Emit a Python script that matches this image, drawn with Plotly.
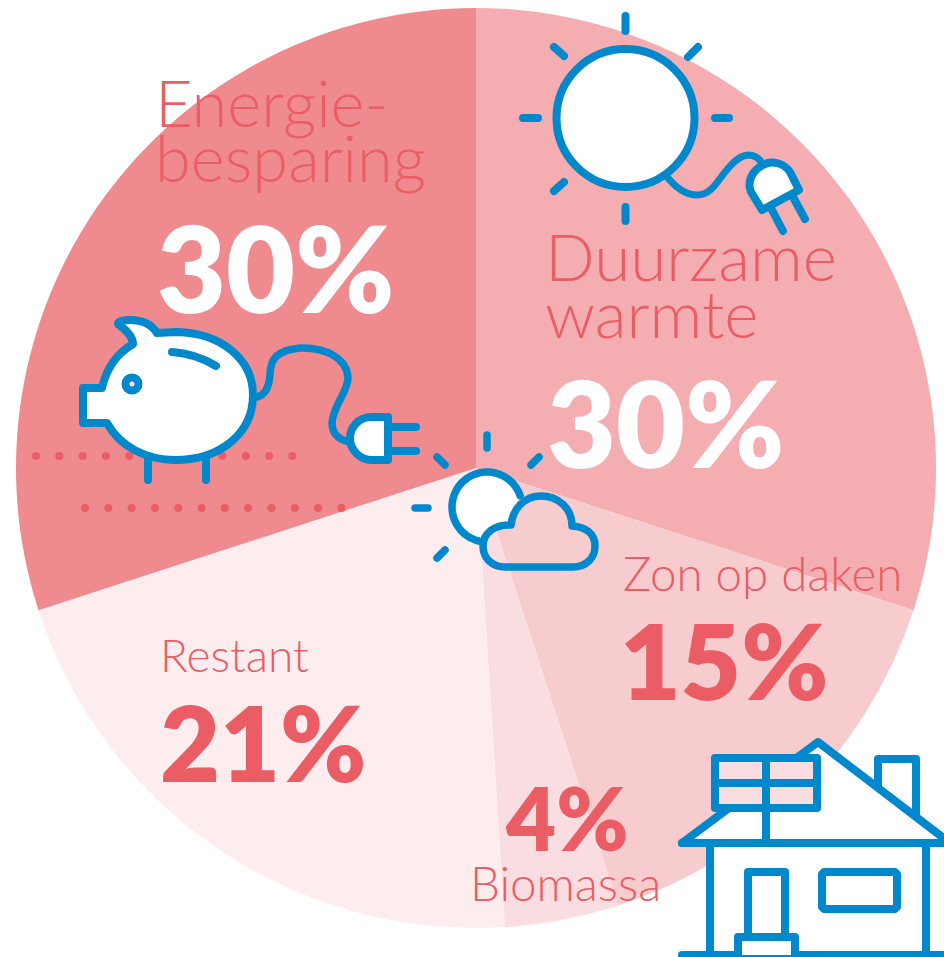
import math
import plotly.graph_objects as go

W, H = 944, 957

# ---- data ----
categories = ["Duurzame warmte", "Zon op daken", "Biomassa", "Restant", "Energiebesparing"]
values = [30, 15, 4, 21, 30]
slice_colors = ["#F4ADB0", "#F6CCCF", "#FADDE0", "#FDEDEF", "#EF8B8F"]

BLUE = "#0088CC"
RED = "#EA5D64"
FONT = "Lato"


def pct(name):
    return f"{values[categories.index(name)]}%"


fig = go.Figure()
fig.add_trace(go.Pie(
    labels=categories, values=values, sort=False, direction="clockwise", rotation=0,
    marker=dict(colors=slice_colors, line=dict(width=0)),
    textinfo="none", hoverinfo="label+percent", showlegend=False,
    domain=dict(x=[16 / W, 936 / W], y=[(H - 928) / H, (H - 8) / H]),
))
fig.add_trace(go.Scatter(x=[None], y=[None], showlegend=False, hoverinfo="skip"))

shapes = []


def path(d, fill=None, width=8, color=BLUE):
    shapes.append(dict(type="path", path=d, xref="x", yref="y", layer="above",
                       fillcolor=fill if fill else "rgba(0,0,0,0)",
                       line=dict(color=color, width=width)))


def fillonly(d, fill):
    shapes.append(dict(type="path", path=d, xref="x", yref="y", layer="above",
                       fillcolor=fill, line=dict(width=0)))


def seg(x0, y0, x1, y1, width=8, color=BLUE, dash=None):
    line = dict(color=color, width=width)
    if dash:
        line["dash"] = dash
    shapes.append(dict(type="line", x0=x0, y0=y0, x1=x1, y1=y1, xref="x", yref="y",
                       layer="above", line=line))


def circle(cx, cy, r, fill=None, width=8):
    shapes.append(dict(type="circle", x0=cx - r, x1=cx + r, y0=cy - r, y1=cy + r,
                       xref="x", yref="y", layer="above",
                       fillcolor=fill if fill else "rgba(0,0,0,0)",
                       line=dict(color=BLUE, width=width)))


def arc_pts(cx, cy, r, a0, a1, n=60):
    pts = []
    for i in range(n + 1):
        a = math.radians(a0 + (a1 - a0) * i / n)
        pts.append((cx + r * math.cos(a), cy + r * math.sin(a)))
    return pts


# dotted lines
seg(36, 456, 296, 456, width=8, color=RED, dash="0.1px,23.2px")
seg(85, 508, 342, 508, width=8, color=RED, dash="0.1px,23.2px")

# big sun with plug
circle(625.5, 118, 69, fill="white", width=8)
for a in [(625.5, 16, 625.5, 31), (625.5, 207, 625.5, 221), (523, 118, 538, 118), (715, 118, 729, 118),
          (554, 47, 564, 56), (698, 47, 688, 57), (554, 191, 564, 182)]:
    seg(*a, width=8)
path("M 668,178 C 678,190 688,195 697,195 C 708,195 714,187 722,176 C 730,165 738,156 748,155 C 755,155 760,159 763,165",
     width=7)
seg(772, 210, 783, 231)
seg(793, 197, 805, 219)
path("M 762,210 L 799,190 L 790,172 C 784,163 772,160 763,165 C 751,171 747,183 751,192 Z", fill="white", width=8)

# piggy bank with plug
path("M 257,397 C 265,395 269,388 270,375 C 270,358 278,350 300,348 C 325,347 347,358 348,378 "
     "C 348,392 333,405 332,423 C 332,433 338,440 350,442", width=7.5)
path("M 102,388 L 83,388 L 83,423 L 107,423 C 120,447 147,460 175,460 C 222,460 253,432 253,395 "
     "C 253,360 222,333 177,332 L 157,333 C 150,322 140,320 130,320 C 124,320 118,321 118,324 "
     "C 126,330 133,336 133,344 C 116,354 106,370 102,388 Z", fill="white", width=8)
path("M 172,352 C 187,353 203,358 216,366", width=8)
circle(132, 384, 6.5, fill="#FBE3E5", width=8)
seg(148, 460, 148, 480)
seg(206, 460, 206, 480)
seg(388, 427, 416, 427)
seg(388, 451, 416, 451)
path("M 388,417 L 372,417 C 358,417 350,428 350,438 C 350,450 360,460 372,460 L 388,460 Z", fill="white", width=8)

# small sun and cloud
sun_arc = arc_pts(487, 507, 35, -19, -257)
sun_line = "M " + " L ".join(f"{x:.1f},{y:.1f}" for x, y in sun_arc)
fillonly(sun_line + " L 483,535 C 488,527 500,524 511,526 C 512,512 516,503 521,496 Z", "white")
path(sun_line, width=7.5)
for a in [(487, 435, 487, 448), (415, 508, 428, 508), (437, 457, 445, 465), (539, 457, 531, 465), (437, 558, 445, 550)]:
    seg(*a, width=7.5)
path("M 505,567 L 573,567 C 586,567 595,558 595,546 C 595,533 585,527 572,526 C 572,508 558,496 541,496 "
     "C 525,496 513,508 511,525 C 495,524 483,533 483,546 C 483,558 492,567 505,567 Z", width=7.5)

# house with solar panel
path("M 710,843 L 710,960 L 926,960 L 926,843 Z", fill="white", width=8)
path("M 878,788 L 878,759 L 916,759 L 916,815", fill="white", width=8)
path("M 682,843 L 818,742 L 950,843 Z", fill="white", width=8)
path("M 715,758 L 817,758 L 817,808 L 715,808 Z", fill="#FADDE0", width=8)
seg(766, 758, 766, 843, width=8)
seg(715, 783, 817, 783, width=8)
seg(682, 843, 944, 843, width=8)
seg(682, 955, 944, 955, width=8)
path("M 748,933 L 748,872 L 785,872 L 785,933", width=8)
path("M 738,955 L 738,937 L 795,937 L 795,955", fill="white", width=8)
path("M 824,872 L 895,872 L 897,874 L 897,907 L 895,909 L 824,909 L 822,907 L 822,874 Z", width=8)

fig.update_layout(
    width=W, height=H, margin=dict(l=0, r=0, t=0, b=0),
    paper_bgcolor="white", plot_bgcolor="rgba(0,0,0,0)",
    xaxis=dict(range=[0, W], visible=False, fixedrange=True),
    yaxis=dict(range=[H, 0], visible=False, fixedrange=True),
    shapes=shapes,
)


def text(x, y, s, size, color=RED, bold=False):
    fig.add_annotation(x=x, y=y, xref="x", yref="y", text=s, showarrow=False,
                       xanchor="left", yanchor="middle", borderpad=0, borderwidth=0,
                       font=dict(family=FONT, size=size, color=color, weight=800 if bold else 300))


text(155, 102, "Energie-", 65)
text(155, 157, "besparing", 65)
text(157, 267, pct("Energiebesparing"), 119, "white", True)
text(545, 255, "Duurzame", 65.5)
text(545, 312, "warmte", 65.5)
text(547, 422, pct("Duurzame warmte"), 119, "white", True)
text(623, 572, "Zon op daken", 47.5)
text(620, 659, pct("Zon op daken"), 104.5, RED, True)
text(160, 654, "Restant", 46)
text(160, 742, pct("Restant"), 103.5, RED, True)
text(505, 817, pct("Biomassa"), 86.5, RED, True)
text(470, 882, "Biomassa", 47.5)

post = """
document.body.style.margin = '0';
document.body.style.overflow = 'hidden';
function roundCaps() {
  document.querySelectorAll('.shapelayer path').forEach(function (p) {
    p.style.strokeLinecap = 'round';
    p.style.strokeLinejoin = 'round';
  });
}
roundCaps();
setTimeout(roundCaps, 50);
"""
fig.write_html("out.html", post_script=post, config=dict(displayModeBar=False))
